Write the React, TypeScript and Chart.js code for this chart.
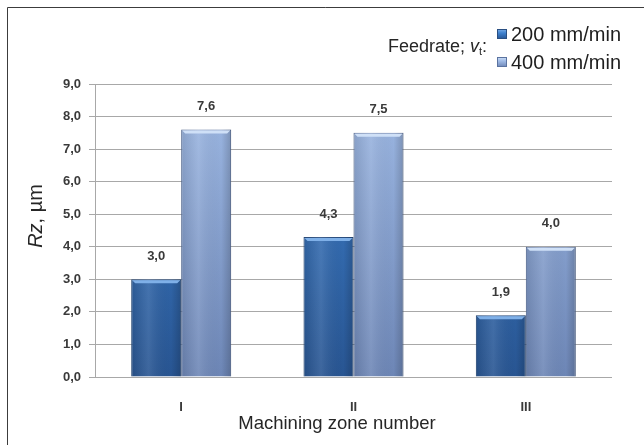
import { useEffect, useRef } from "react";
import { Chart, registerables } from "chart.js";

Chart.register(...registerables);

// Surface roughness by machining zone, for two feedrates
const zones = ["I", "II", "III"];
const rz200 = [3.0, 4.3, 1.9];
const rz400 = [7.6, 7.5, 4.0];
const seriesNames = ["200 mm/min", "400 mm/min"];
const yMin = 0;
const yMax = 9;
const yStep = 1;

const FONT = "'Liberation Sans', Arial, sans-serif";
const TEXT = "#3a3a3a";

const palette = [
  { top: "#3f82cf", bottom: "#285592", edge: "#2a4f82", shine: "#7fb0e8" },
  { top: "#a0bbe6", bottom: "#6d86b6", edge: "#5b73a0", shine: "#cfe0f7" },
];

const fmt = (v: number) => v.toFixed(1).replace(".", ",");

function barFill(idx: number) {
  return (ctx: any) => {
    const chart = ctx.chart;
    const area = chart.chartArea;
    const p = palette[idx];
    if (!area) return p.top;
    const g = chart.ctx.createLinearGradient(0, area.top, 0, area.bottom);
    g.addColorStop(0, p.top);
    g.addColorStop(1, p.bottom);
    return g;
  };
}

const decorations = {
  id: "decorations",
  afterDatasetsDraw(chart: any) {
    const c = chart.ctx as CanvasRenderingContext2D;
    c.save();
    chart.data.datasets.forEach((ds: any, di: number) => {
      const meta = chart.getDatasetMeta(di);
      const p = palette[di];
      meta.data.forEach((bar: any, i: number) => {
        const { x, y, width, base } = bar.getProps(["x", "y", "width", "base"], true);
        const l = x - width / 2;
        const r = x + width / 2;
        // side shading for a rounded look
        const side = c.createLinearGradient(l, 0, r, 0);
        side.addColorStop(0, "rgba(0,0,0,0.10)");
        side.addColorStop(0.35, "rgba(255,255,255,0.10)");
        side.addColorStop(0.8, "rgba(0,0,0,0.0)");
        side.addColorStop(1, "rgba(0,0,0,0.18)");
        c.fillStyle = side;
        c.fillRect(l, y, width, base - y);
        // bevelled top edge
        c.fillStyle = p.shine;
        c.beginPath();
        c.moveTo(l + 1, y + 1);
        c.lineTo(r - 1, y + 1);
        c.lineTo(r - 4, y + 4);
        c.lineTo(l + 4, y + 4);
        c.closePath();
        c.fill();
        // value label
        c.fillStyle = TEXT;
        c.font = `bold 13px ${FONT}`;
        c.textAlign = "center";
        c.textBaseline = "middle";
        c.fillText(fmt(ds.data[i]), x, y - 23);
      });
    });
    c.restore();
  },
  afterDraw(chart: any) {
    const c = chart.ctx as CanvasRenderingContext2D;
    const W = chart.width;
    const H = chart.height;
    c.save();
    // frame (top and left edges)
    c.strokeStyle = "#3c3c3c";
    c.lineWidth = 1;
    c.beginPath();
    c.moveTo(7.5, H);
    c.lineTo(7.5, 7.5);
    c.lineTo(W, 7.5);
    c.stroke();

    // y-axis title: italic "Rz" + ", µm"
    c.translate(36, 216);
    c.rotate(-Math.PI / 2);
    c.fillStyle = "#262626";
    c.textBaseline = "middle";
    c.textAlign = "left";
    const fIt = `italic 20px ${FONT}`;
    const fUp = `20px ${FONT}`;
    c.font = fIt;
    const w1 = c.measureText("Rz").width;
    c.font = fUp;
    const w2 = c.measureText(", µm").width;
    const sx = -(w1 + w2) / 2;
    c.font = fIt;
    c.fillText("Rz", sx, 0);
    c.font = fUp;
    c.fillText(", µm", sx + w1, 0);
    c.setTransform(1, 0, 0, 1, 0, 0);

    // x-axis title
    c.font = `18.5px ${FONT}`;
    c.textAlign = "center";
    c.textBaseline = "middle";
    c.fillStyle = "#262626";
    c.fillText("Machining zone number", 337, 424);

    // legend heading: Feedrate; v_t:
    const hy = 47;
    const right = 487;
    const fMain = `18px ${FONT}`;
    const fItal = `italic 18px ${FONT}`;
    const fSub = `11px ${FONT}`;
    c.textAlign = "left";
    c.fillStyle = "#262626";
    c.font = fMain;
    const a = c.measureText("Feedrate; ").width;
    const colon = c.measureText(":").width;
    c.font = fItal;
    const v = c.measureText("v").width;
    c.font = fSub;
    const t = c.measureText("t").width;
    let lx = right - (a + v + t + colon);
    c.font = fMain;
    c.fillText("Feedrate; ", lx, hy);
    lx += a;
    c.font = fItal;
    c.fillText("v", lx, hy);
    lx += v;
    c.font = fSub;
    c.fillText("t", lx, hy + 5);
    lx += t;
    c.font = fMain;
    c.fillText(":", lx, hy);

    // legend entries
    chart.data.datasets.forEach((ds: any, di: number) => {
      const p = palette[di];
      const ly = 34 + di * 28;
      const g = c.createLinearGradient(0, ly - 5, 0, ly + 5);
      g.addColorStop(0, p.shine);
      g.addColorStop(0.4, p.top);
      g.addColorStop(1, p.bottom);
      c.fillStyle = g;
      c.fillRect(497, ly - 5, 10, 10);
      c.strokeStyle = p.edge;
      c.strokeRect(497.5, ly - 4.5, 9, 9);
      c.fillStyle = "#1e1e1e";
      c.font = `20px ${FONT}`;
      c.textBaseline = "middle";
      c.fillText(ds.label, 511, ly + 1);
    });
    c.restore();
  },
};

export default function App() {
  const ref = useRef<HTMLCanvasElement | null>(null);

  useEffect(() => {
    if (!ref.current) return;
    const chart = new Chart(ref.current, {
      type: "bar",
      data: {
        labels: zones,
        datasets: [
          {
            label: seriesNames[0],
            data: rz200,
            backgroundColor: barFill(0),
            borderColor: palette[0].edge,
            borderWidth: 1,
            categoryPercentage: 0.58,
            barPercentage: 1,
          },
          {
            label: seriesNames[1],
            data: rz400,
            backgroundColor: barFill(1),
            borderColor: palette[1].edge,
            borderWidth: 1,
            categoryPercentage: 0.58,
            barPercentage: 1,
          },
        ],
      },
      options: {
        responsive: false,
        animation: false,
        devicePixelRatio: 1,
        layout: { padding: { top: 84, right: 32, left: 0, bottom: 0 } },
        plugins: {
          legend: { display: false },
          tooltip: { enabled: false },
          title: { display: false },
        },
        scales: {
          x: {
            grid: { display: false, drawTicks: false },
            border: { display: false },
            ticks: {
              color: TEXT,
              font: { family: FONT, size: 13, weight: "bold" },
              padding: 23,
            },
            afterFit: (s: any) => {
              s.height = 68;
            },
          },
          y: {
            min: yMin,
            max: yMax,
            grid: { color: "#a8a8a8", lineWidth: 1, tickLength: 6, drawTicks: true },
            border: { display: true, color: "#a8a8a8" },
            ticks: {
              stepSize: yStep,
              color: TEXT,
              font: { family: FONT, size: 13, weight: "bold" },
              padding: 8,
              callback: (v: any) => fmt(Number(v)),
            },
            afterFit: (s: any) => {
              s.width = 95;
            },
          },
        },
      },
      plugins: [decorations],
    });
    return () => chart.destroy();
  }, []);

  return (
    <div style={{ position: "fixed", left: 0, top: 0, width: 644, height: 445, background: "#fff" }}>
      <canvas ref={ref} width={644} height={445} style={{ display: "block" }} />
    </div>
  );
}
